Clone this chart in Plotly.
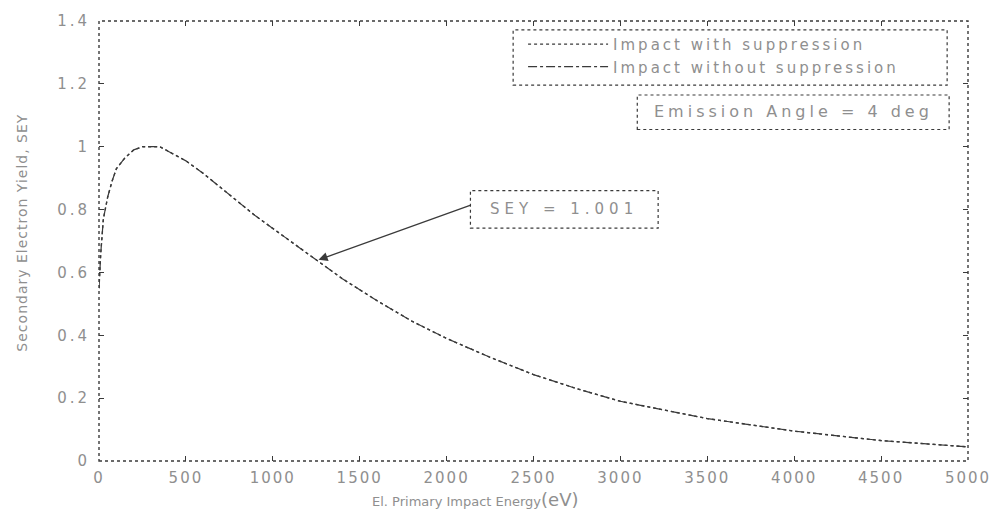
import plotly.graph_objects as go

# Primary impact energy (eV) and secondary electron yield
energy_ev = [0, 10, 25, 50, 75, 100, 150, 200, 250, 300, 350, 400, 500, 600, 700,
             800, 900, 1000, 1200, 1400, 1600, 1800, 2000, 2250, 2500, 2750, 3000,
             3500, 4000, 4500, 5000]
sey_with_suppression = [0.55, 0.66, 0.77, 0.84, 0.89, 0.93, 0.965, 0.99, 1.0, 1.001, 1.0,
                        0.985, 0.955, 0.915, 0.87, 0.825, 0.78, 0.74, 0.66, 0.58, 0.51,
                        0.445, 0.39, 0.33, 0.275, 0.23, 0.19, 0.135, 0.095, 0.065, 0.045]
sey_without_suppression = [0.55, 0.66, 0.77, 0.84, 0.89, 0.93, 0.965, 0.99, 1.0, 1.001, 1.0,
                           0.985, 0.955, 0.915, 0.87, 0.825, 0.78, 0.74, 0.66, 0.58, 0.51,
                           0.445, 0.39, 0.33, 0.275, 0.23, 0.19, 0.135, 0.095, 0.065, 0.045]

x_ticks = [0, 500, 1000, 1500, 2000, 2500, 3000, 3500, 4000, 4500, 5000]
y_ticks = [0, 0.2, 0.4, 0.6, 0.8, 1.0, 1.2, 1.4]
y_tick_text = ["0", "0.2", "0.4", "0.6", "0.8", "1", "1.2", "1.4"]

peak_label = "SEY = 1.001"
peak_point = (1263, 0.64)
angle_label = "Emission Angle = 4 deg"

TEXT = "#8f8f8f"
INK = "#3a3a3a"
FONT = "DejaVu Sans"


def spaced(s, px=2):
    return f"<span style='letter-spacing:{px}px'>{s}</span>"


# plot area in pixels
L, R, T, B = 99, 974, 15, 461
W, H = 1003, 513


def px_x(px):
    return (px - L) / (R - L)


def px_y(py):
    return (B - py) / (B - T)


fig = go.Figure()
fig.add_trace(go.Scatter(
    x=energy_ev, y=sey_with_suppression, mode="lines",
    name=spaced("Impact with suppression", 3),
    line=dict(color=INK, width=1.4, dash="dot"),
))
fig.add_trace(go.Scatter(
    x=energy_ev, y=sey_without_suppression, mode="lines",
    name=spaced("Impact without suppression", 3),
    line=dict(color=INK, width=1.2, dash="dashdot"),
))

frame_line = dict(color=INK, width=1.4, dash="dot")
box_line = dict(color=INK, width=1.2, dash="dot")
shapes = [
    # axes frame
    dict(type="rect", xref="paper", yref="paper", x0=0, x1=1, y0=0, y1=1, line=frame_line),
    # legend box
    dict(type="rect", xref="paper", yref="paper",
         x0=px_x(516), x1=px_x(953), y0=px_y(80), y1=px_y(24), line=box_line),
    # emission angle box
    dict(type="rect", xref="paper", yref="paper",
         x0=px_x(641), x1=px_x(955), y0=px_y(125), y1=px_y(90), line=box_line),
    # SEY label box
    dict(type="rect", xref="paper", yref="paper",
         x0=px_x(473), x1=px_x(662), y0=px_y(225), y1=px_y(187), line=box_line),
]

centered = dict(xanchor="center", yanchor="middle", showarrow=False)
annotations = [
    dict(xref="paper", yref="paper", x=px_x(567), y=px_y(206), text=spaced(peak_label, 5),
         font=dict(size=15, color=TEXT, family=FONT), **centered),
    dict(xref="paper", yref="paper", x=px_x(798), y=px_y(107), text=spaced(angle_label, 4),
         font=dict(size=16, color=TEXT, family=FONT), **centered),
    dict(x=peak_point[0], y=peak_point[1], xref="x", yref="y", text="",
         showarrow=True, ax=153, ay=-55, arrowhead=2, arrowsize=1.4, arrowwidth=1.3,
         arrowcolor=INK, standoff=0),
    dict(xref="paper", yref="paper", x=px_x(22), y=px_y(230),
         text=spaced("Secondary Electron Yield, SEY", 1), textangle=-90,
         font=dict(size=14, color=TEXT, family=FONT), **centered),
    dict(xref="paper", yref="paper", x=px_x(478), y=px_y(500),
         text="El. Primary Impact Energy"
         + "<span style='font-size:18px'>(eV)</span>",
         font=dict(size=13, color=TEXT, family=FONT), **centered),
]

axis_common = dict(
    showline=False, showgrid=False, zeroline=False,
    ticks="inside", ticklen=5, tickcolor=INK, tickwidth=1.2, mirror="ticks",
    tickfont=dict(size=15, color=TEXT, family=FONT),
)

fig.update_layout(
    width=W, height=H,
    margin=dict(l=L, r=W - R, t=T, b=H - B),
    paper_bgcolor="white", plot_bgcolor="white",
    xaxis=dict(range=[0, 5000], tickvals=x_ticks,
               ticktext=[spaced(str(v), 2) for v in x_ticks], ticklabelstandoff=6,
               **axis_common),
    yaxis=dict(range=[0, 1.4], tickvals=y_ticks,
               ticktext=[spaced(t, 3) for t in y_tick_text], ticklabelstandoff=8,
               **axis_common),
    showlegend=True,
    legend=dict(x=px_x(526), y=px_y(22), xanchor="left", yanchor="top",
                bgcolor="rgba(0,0,0,0)", borderwidth=0, itemwidth=80,
                font=dict(size=15, color=TEXT, family=FONT), tracegroupgap=0),
    shapes=shapes,
    annotations=annotations,
)

fig.write_html("out.html")
